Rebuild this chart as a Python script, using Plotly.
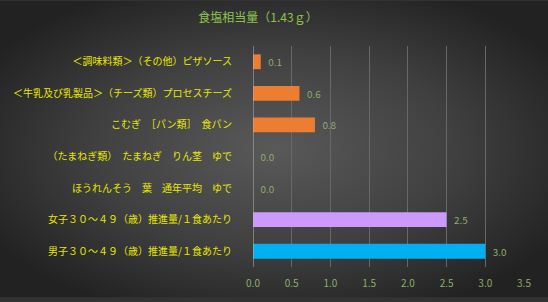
import base64
import plotly.graph_objects as go

categories = [
    "＜調味料類＞（その他）ピザソース",
    "＜牛乳及び乳製品＞（チーズ類）プロセスチーズ",
    "こむぎ　［パン類］　食パン",
    "（たまねぎ類）　たまねぎ　りん茎　ゆで",
    "ほうれんそう　葉　通年平均　ゆで",
    "女子３０～４９（歳）推進量/１食あたり",
    "男子３０～４９（歳）推進量/１食あたり",
]
values = [0.1, 0.6, 0.8, 0.0, 0.0, 2.5, 3.0]
bar_colors = ["#ED7D31", "#ED7D31", "#ED7D31", "#ED7D31", "#ED7D31", "#CC99FF", "#00B0F0"]
tick_vals = [0, 0.5, 1.0, 1.5, 2.0, 2.5, 3.0, 3.5]
tick_text = ["0.0", "0.5", "1.0", "1.5", "2.0", "2.5", "3.0", "3.5"]
title_text = "食塩相当量（1.43ｇ）"

W, H = 548, 302
ML, MR, MT, MB = 253, 24, 46, 31
PW, PH = W - ML - MR, H - MT - MB

svg = f'''<svg xmlns="http://www.w3.org/2000/svg" width="{W}" height="{H}" viewBox="0 0 {W} {H}" preserveAspectRatio="none">
<defs><radialGradient id="g" cx="0.5" cy="0.5" r="0.6" gradientUnits="objectBoundingBox">
<stop offset="0" stop-color="#595959"/><stop offset="0.55" stop-color="#404040"/><stop offset="1" stop-color="#222222"/>
</radialGradient></defs><rect width="{W}" height="{H}" fill="url(#g)"/></svg>'''
src = "data:image/svg+xml;base64," + base64.b64encode(svg.encode()).decode()

fig = go.Figure(go.Bar(
    x=values, y=categories, orientation="h",
    marker=dict(color=bar_colors, line=dict(width=0)),
    text=["\u00a0\u00a0" + f"{v:.1f}" for v in values], textposition="outside",
    textfont=dict(color="#8DAE68", size=10, family="Noto Sans CJK JP"),
    cliponaxis=False,
))

fig.update_layout(
    width=W, height=H,
    margin=dict(l=ML, r=MR, t=MT, b=MB),
    paper_bgcolor="#333333", plot_bgcolor="rgba(0,0,0,0)",
    bargap=0.53,
    showlegend=False,
    font=dict(family="Noto Sans CJK JP"),
    title=dict(text=title_text, x=258 / W, xref="container", xanchor="center", y=1 - 18 / H, yanchor="middle",
               font=dict(color="#8DC34F", size=12, family="Noto Sans CJK JP")),
    images=[dict(source=src, xref="paper", yref="paper", x=-ML / PW, y=1 + MT / PH,
                 sizex=W / PW, sizey=H / PH, sizing="stretch", xanchor="left", yanchor="top",
                 layer="below")],
    xaxis=dict(range=[0, 3.5], tickvals=tick_vals, ticktext=tick_text, showgrid=True,
               gridcolor="#686868", gridwidth=1, zeroline=False, showline=False,
               tickfont=dict(color="#8DAE68", size=10), ticks="", ticklabelstandoff=9,
               fixedrange=True),
    yaxis=dict(autorange="reversed", showgrid=False, zeroline=False, showline=False,
               tickfont=dict(color="#E8E800", size=10), ticks="", ticklabelstandoff=20),
    shapes=[dict(type="line", xref="x", yref="paper", x0=0, x1=0, y0=0, y1=1,
                 line=dict(color="#B8B8B8", width=1))],
)

fig.write_html("out.html")
